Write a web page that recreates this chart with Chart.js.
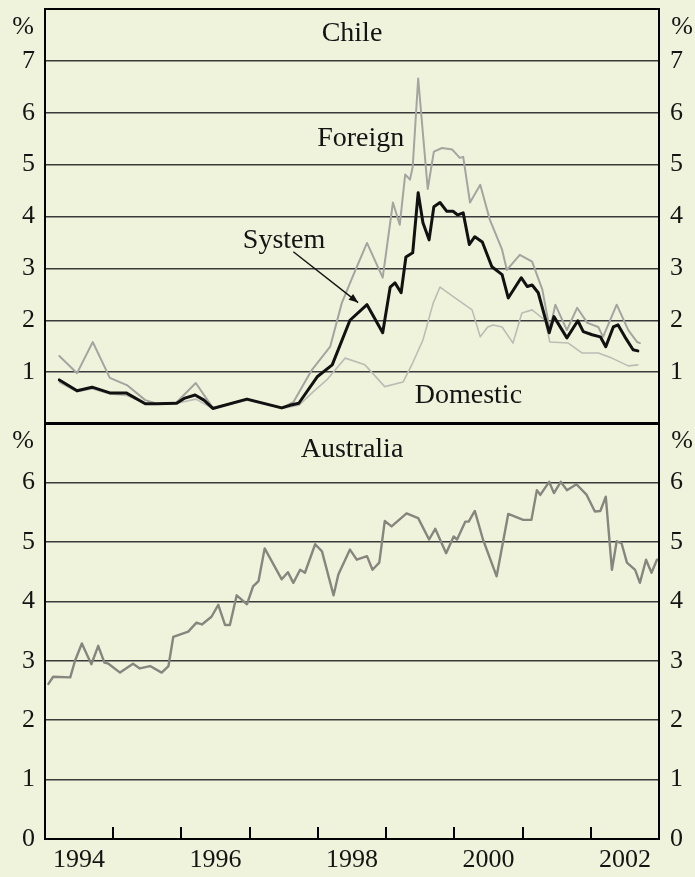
<!DOCTYPE html>
<html><head><meta charset="utf-8">
<script src="https://cdn.jsdelivr.net/npm/chart.js@4"></script>
<style>
html,body{margin:0;padding:0;background:#f0f3dc;}
#wrap{position:relative;width:695px;height:877px;overflow:hidden;background:#f0f3dc;}
canvas{position:absolute;left:0;}
#c1{top:0;}
#c2{top:421px;}
</style></head><body>
<div id="wrap"><canvas id="c1" width="695" height="426"></canvas><canvas id="c2" width="695" height="456"></canvas></div>
<script>
// ---------- DATA ----------
const systemDates = [1994.21,1994.47,1994.69,1994.95,1995.19,1995.47,1995.64,1995.93,1996.05,1996.20,1996.33,1996.46,1996.96,1997.47,1997.59,1997.72,1997.99,1998.21,1998.47,1998.72,1998.95,1999.06,1999.13,1999.22,1999.29,1999.39,1999.47,1999.54,1999.63,1999.70,1999.79,1999.89,1999.98,2000.05,2000.13,2000.22,2000.30,2000.41,2000.55,2000.70,2000.79,2000.98,2001.07,2001.14,2001.23,2001.39,2001.46,2001.65,2001.81,2001.89,2002.02,2002.14,2002.22,2002.33,2002.40,2002.50,2002.62,2002.69];
const systemValues = [0.85,0.64,0.71,0.60,0.60,0.39,0.39,0.40,0.50,0.56,0.46,0.30,0.48,0.31,0.36,0.40,0.91,1.14,2.00,2.30,1.76,2.64,2.72,2.53,3.22,3.30,4.46,3.88,3.55,4.19,4.27,4.10,4.10,4.03,4.07,3.46,3.61,3.51,3.03,2.88,2.43,2.82,2.65,2.68,2.53,1.76,2.07,1.66,1.99,1.78,1.72,1.68,1.49,1.87,1.91,1.68,1.43,1.41];

const foreignDates = [1994.21,1994.47,1994.70,1994.95,1995.20,1995.47,1995.64,1995.93,1996.21,1996.46,1996.96,1997.47,1997.64,1997.91,1998.18,1998.35,1998.51,1998.72,1998.95,1999.10,1999.20,1999.28,1999.35,1999.39,1999.47,1999.61,1999.70,1999.82,1999.97,2000.08,2000.13,2000.23,2000.38,2000.52,2000.70,2000.77,2000.96,2001.14,2001.29,2001.40,2001.48,2001.65,2001.80,2001.95,2002.11,2002.18,2002.38,2002.55,2002.68,2002.72];
const foreignValues = [1.31,0.98,1.58,0.89,0.75,0.46,0.39,0.42,0.79,0.31,0.48,0.31,0.42,1.04,1.49,2.33,2.84,3.49,2.82,4.27,3.84,4.81,4.71,4.96,6.66,4.53,5.25,5.32,5.29,5.13,5.15,4.27,4.61,3.94,3.36,2.97,3.26,3.13,2.59,1.81,2.30,1.81,2.24,1.95,1.87,1.68,2.30,1.81,1.58,1.56];

const domesticDates = [1994.21,1994.47,1994.69,1994.95,1995.20,1995.47,1995.64,1995.93,1996.21,1996.46,1996.96,1997.47,1997.72,1997.93,1998.13,1998.40,1998.69,1998.98,1999.25,1999.39,1999.54,1999.69,1999.79,2000.01,2000.26,2000.38,2000.49,2000.57,2000.70,2000.86,2000.99,2001.14,2001.33,2001.40,2001.67,2001.87,2002.11,2002.31,2002.55,2002.69];
const domesticValues = [0.80,0.62,0.68,0.58,0.55,0.40,0.38,0.40,0.48,0.30,0.46,0.30,0.36,0.62,0.85,1.27,1.14,0.72,0.81,1.18,1.62,2.33,2.64,2.43,2.20,1.68,1.87,1.91,1.87,1.56,2.14,2.20,2.00,1.58,1.56,1.37,1.37,1.27,1.12,1.14];

const australiaDates = [1994.05,1994.12,1994.37,1994.44,1994.54,1994.68,1994.78,1994.87,1994.93,1995.10,1995.29,1995.39,1995.54,1995.71,1995.81,1995.88,1996.10,1996.22,1996.30,1996.44,1996.54,1996.64,1996.71,1996.81,1996.96,1997.05,1997.13,1997.22,1997.47,1997.56,1997.64,1997.74,1997.81,1997.96,1998.06,1998.23,1998.30,1998.47,1998.57,1998.72,1998.80,1998.90,1998.98,1999.08,1999.30,1999.47,1999.63,1999.72,1999.88,1999.99,2000.04,2000.16,2000.21,2000.30,2000.42,2000.62,2000.79,2001.01,2001.13,2001.21,2001.26,2001.39,2001.46,2001.56,2001.65,2001.79,2001.94,2002.06,2002.14,2002.22,2002.31,2002.38,2002.45,2002.53,2002.65,2002.72,2002.81,2002.89,2002.97];
const australiaValues = [2.61,2.73,2.72,3.00,3.29,2.94,3.25,2.97,2.95,2.80,2.95,2.87,2.91,2.80,2.91,3.40,3.49,3.64,3.61,3.74,3.94,3.60,3.60,4.10,3.95,4.25,4.34,4.89,4.37,4.49,4.31,4.53,4.48,4.96,4.84,4.10,4.45,4.87,4.70,4.76,4.53,4.65,5.35,5.26,5.48,5.40,5.04,5.22,4.81,5.09,5.04,5.34,5.34,5.52,5.04,4.42,5.47,5.37,5.37,5.87,5.79,6.01,5.82,6.01,5.87,5.97,5.79,5.51,5.52,5.76,4.53,5.01,4.98,4.65,4.53,4.31,4.70,4.48,4.70];

const yearLabels = ['1994','1996','1998','2000','2002'];
const yearTicks = [1995,1996,1997,1998,1999,2000,2001,2002];
const chileTicks = [1,2,3,4,5,6,7];
const australiaTicks = [0,1,2,3,4,5,6];

// ---------- STYLE ----------
const FONT = "'Liberation Serif','Times New Roman',serif";
const TXT = '#141414';
const GRID = '#3a3a3a';
const LABEL_FONT = '28px ' + FONT;
const pts = (d, v) => d.map((x, i) => ({x, y: v[i]}));

function yAxes(max, shown) {
  const common = {
    type: 'linear', min: 0, max: max,
    afterBuildTicks: s => { s.ticks = Array.from({length: max + 1}, (_, i) => ({value: i})); },
    ticks: {
      font: {family: FONT, size: 26}, color: TXT,
      callback: v => shown.includes(v) ? String(v) : '',
      autoSkip: false
    },
    border: {display: false}
  };
  return {
    y: Object.assign({}, common, {
      position: 'left',
      afterFit: s => { s.width = 45; s.paddingTop = 0; s.paddingBottom = 0; },
      ticks: Object.assign({}, common.ticks, {padding: 10}),
      grid: {drawTicks: false, lineWidth: 1.5,
        color: c => (c.tick.value > 0 && c.tick.value < max) ? GRID : 'rgba(0,0,0,0)'}
    }),
    y2: Object.assign({}, common, {
      position: 'right',
      afterFit: s => { s.width = 36; s.paddingTop = 0; s.paddingBottom = 0; },
      ticks: Object.assign({}, common.ticks, {padding: 11}),
      grid: {drawTicks: false, drawOnChartArea: false}
    })
  };
}

function textAt(ctx, chart, x, y, text, align, baseline) {
  const xs = chart.scales.x, ys = chart.scales.y;
  ctx.save();
  ctx.font = LABEL_FONT;
  ctx.fillStyle = TXT;
  ctx.textAlign = align; ctx.textBaseline = baseline;
  ctx.fillText(text, xs.getPixelForValue(x), ys.getPixelForValue(y));
  ctx.restore();
}

function framePlugin(id, annot) {
  return {
    id: id,
    afterDatasetsDraw(chart) {
      const ctx = chart.ctx, a = chart.chartArea;
      ctx.save();
      ctx.strokeStyle = '#000';
      ctx.lineWidth = 2;
      ctx.strokeRect(a.left, a.top, a.right - a.left, a.bottom - a.top);
      ctx.restore();
      annot(chart, ctx, a);
    }
  };
}

const baseOpts = (scales, padding) => ({
  responsive: false, animation: false,
  layout: {padding: padding},
  plugins: {legend: {display: false}, tooltip: {enabled: false}},
  elements: {point: {radius: 0}, line: {tension: 0, borderJoinStyle: 'round', borderCapStyle: 'round'}},
  scales: scales
});

// ---------- CHILE ----------
const chileScales = Object.assign({
  x: {type: 'linear', min: 1994, max: 2003, display: false}
}, yAxes(8, chileTicks));

new Chart(document.getElementById('c1'), {
  type: 'line',
  data: {datasets: [
    {label: 'System', data: pts(systemDates, systemValues), borderColor: '#111', borderWidth: 3},
    {label: 'Foreign', data: pts(foreignDates, foreignValues), borderColor: '#a4a4a0', borderWidth: 2},
    {label: 'Domestic', data: pts(domesticDates, domesticValues), borderColor: '#bcbcb4', borderWidth: 1.6}
  ]},
  options: baseOpts(chileScales, {top: 9, bottom: 2, left: 0, right: 0}),
  plugins: [framePlugin('chileFrame', (chart, ctx, a) => {
    textAt(ctx, chart, 1998.5, 7.52, 'Chile', 'center', 'middle');
    textAt(ctx, chart, 1997.99, 5.35, 'Foreign', 'left', 'alphabetic');
    textAt(ctx, chart, 1996.90, 3.40, 'System', 'left', 'alphabetic');
    textAt(ctx, chart, 1999.42, 0.41, 'Domestic', 'left', 'alphabetic');
    ctx.save();
    ctx.font = '26px ' + FONT; ctx.fillStyle = TXT;
    ctx.textAlign = 'center'; ctx.textBaseline = 'middle';
    ctx.fillText('%', 23, 27);
    ctx.fillText('%', 682, 27);
    ctx.restore();
    const xs = chart.scales.x, ys = chart.scales.y;
    const x0 = xs.getPixelForValue(1997.64), y0 = ys.getPixelForValue(3.32);
    const x1 = xs.getPixelForValue(1998.59), y1 = ys.getPixelForValue(2.34);
    ctx.save();
    ctx.strokeStyle = '#111'; ctx.fillStyle = '#111'; ctx.lineWidth = 1.4;
    ctx.beginPath(); ctx.moveTo(x0, y0); ctx.lineTo(x1, y1); ctx.stroke();
    const ang = Math.atan2(y1 - y0, x1 - x0), L = 10, W = 0.38;
    ctx.beginPath();
    ctx.moveTo(x1, y1);
    ctx.lineTo(x1 - L * Math.cos(ang - W), y1 - L * Math.sin(ang - W));
    ctx.lineTo(x1 - L * Math.cos(ang + W), y1 - L * Math.sin(ang + W));
    ctx.closePath(); ctx.fill();
    ctx.restore();
  })]
});

// ---------- AUSTRALIA ----------
const ausScales = Object.assign({
  x: {
    type: 'linear', min: 1994, max: 2003, position: 'bottom',
    afterFit: s => { s.height = 38; s.paddingLeft = 0; s.paddingRight = 0; },
    afterBuildTicks: s => { s.ticks = yearLabels.map(l => ({value: Number(l) + 0.5})); },
    ticks: {font: {family: FONT, size: 26}, color: TXT, padding: 6, autoSkip: false, maxRotation: 0,
      callback: v => String(Math.floor(v))},
    grid: {display: false, drawTicks: false},
    border: {display: false}
  }
}, yAxes(7, australiaTicks));

new Chart(document.getElementById('c2'), {
  type: 'line',
  data: {datasets: [
    {label: 'Australia', data: pts(australiaDates, australiaValues), borderColor: '#86867e', borderWidth: 2.4}
  ]},
  options: baseOpts(ausScales, {top: 2, bottom: 0, left: 0, right: 0}),
  plugins: [framePlugin('ausFrame', (chart, ctx, a) => {
    textAt(ctx, chart, 1998.5, 6.43, 'Australia', 'center', 'alphabetic');
    ctx.save();
    ctx.font = '26px ' + FONT; ctx.fillStyle = TXT;
    ctx.textAlign = 'center'; ctx.textBaseline = 'middle';
    const yp = chart.scales.y.getPixelForValue(6.7);
    ctx.fillText('%', 23, yp);
    ctx.fillText('%', 682, yp);
    ctx.strokeStyle = '#000'; ctx.lineWidth = 2;
    yearTicks.forEach(t => {
      const xp = Math.round(chart.scales.x.getPixelForValue(t));
      ctx.beginPath(); ctx.moveTo(xp, a.bottom); ctx.lineTo(xp, a.bottom - 12); ctx.stroke();
    });
    ctx.restore();
  })]
});
</script>
</body></html>
